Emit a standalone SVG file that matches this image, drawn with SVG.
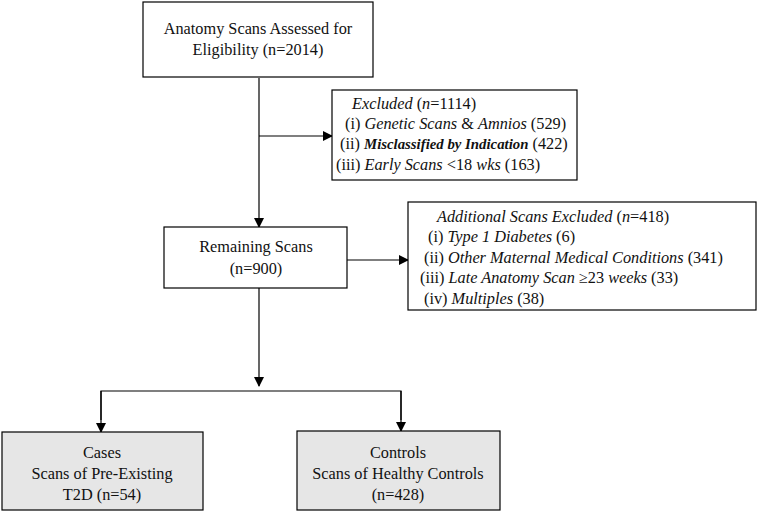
<svg xmlns="http://www.w3.org/2000/svg" width="758" height="512" viewBox="0 0 758 512" font-family="'Liberation Serif', 'Times New Roman', serif" font-size="16.3">
<defs>
<style>
.box{fill:#fff;stroke:#000;stroke-width:1.2}
.grey{fill:#e6e6e6;stroke:#000;stroke-width:1.2}
text{font-family:'Liberation Serif','Times New Roman',serif;font-size:16.3px;fill:#111}
.c{text-anchor:middle}
.i{font-style:italic}
.b{font-weight:bold;font-size:14.8px}
.ln{stroke:#000;stroke-width:1.2;fill:none}
</style>
<marker id="ah" markerWidth="10" markerHeight="10" refX="9" refY="5" orient="auto" markerUnits="userSpaceOnUse">
<path d="M0,0 L10,5 L0,10 z" fill="#000"/>
</marker>
</defs>
<g id="connectors">
<line class="ln" x1="259" y1="78" x2="259" y2="227" marker-end="url(#ah)"/>
<line class="ln" x1="259" y1="136" x2="332" y2="136" marker-end="url(#ah)"/>
<line class="ln" x1="347" y1="260" x2="408" y2="260" marker-end="url(#ah)"/>
<line class="ln" x1="259" y1="288" x2="259" y2="386" marker-end="url(#ah)"/>
<polyline class="ln" points="101,420 101,391 401,391 401,420"/>
<line class="ln" x1="101" y1="391" x2="101" y2="432" marker-end="url(#ah)"/>
<line class="ln" x1="401" y1="391" x2="401" y2="431" marker-end="url(#ah)"/>
</g>
<g id="assessed">
<rect class="box" x="143" y="2" width="230" height="75"/>
<text class="c" x="258" y="34">Anatomy Scans Assessed for</text>
<text class="c" x="258" y="55">Eligibility (n=2014)</text>
</g>
<g id="excluded">
<rect class="box" x="332" y="90" width="245" height="90"/>
<text x="352" y="109"><tspan class="i">Excluded</tspan> (<tspan class="i">n</tspan>=1114)</text>
<text x="345" y="129">(i) <tspan class="i">Genetic Scans</tspan> &amp; <tspan class="i">Amnios</tspan> (529)</text>
<text x="340" y="149">(ii) <tspan class="i b">Misclassified by Indication</tspan> (422)</text>
<text x="336" y="170">(iii) <tspan class="i">Early Scans</tspan> &lt;18 <tspan class="i">wks</tspan> (163)</text>
</g>
<g id="remaining">
<rect class="box" x="164" y="227" width="183" height="61"/>
<text class="c" x="256" y="252">Remaining Scans</text>
<text class="c" x="256" y="274">(n=900)</text>
</g>
<g id="additional">
<rect class="box" x="408" y="202" width="348" height="108"/>
<text x="437" y="222"><tspan class="i">Additional Scans Excluded</tspan> (<tspan class="i">n</tspan>=418)</text>
<text x="428" y="242">(i) <tspan class="i">Type 1 Diabetes</tspan> (6)</text>
<text x="424" y="263">(ii) <tspan class="i">Other Maternal Medical Conditions</tspan> (341)</text>
<text x="420" y="283">(iii) <tspan class="i">Late Anatomy Scan</tspan> ≥23 <tspan class="i">weeks</tspan> (33)</text>
<text x="424" y="304">(iv) <tspan class="i">Multiples</tspan> (38)</text>
</g>
<g id="cases">
<rect class="grey" x="2" y="432" width="201" height="78"/>
<text class="c" x="102" y="458">Cases</text>
<text class="c" x="102" y="479">Scans of Pre-Existing</text>
<text class="c" x="102" y="500">T2D (n=54)</text>
</g>
<g id="controls">
<rect class="grey" x="297" y="431" width="203" height="79"/>
<text class="c" x="398" y="458">Controls</text>
<text class="c" x="398" y="479">Scans of Healthy Controls</text>
<text class="c" x="398" y="500">(n=428)</text>
</g>
</svg>
